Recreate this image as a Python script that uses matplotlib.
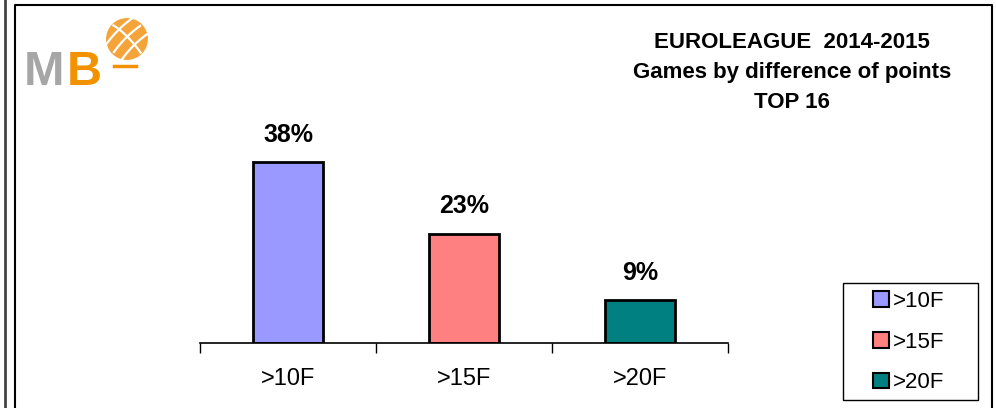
import matplotlib.pyplot as plt
import matplotlib.patches as mpatches
from matplotlib.lines import Line2D
import numpy as np

# Datos
categories = [">10F", ">15F", ">20F"]
percentages = [38, 23, 9]
colors = ["#9999ff", "#ff8080", "#008080"]
title_lines = ["EUROLEAGUE  2014-2015", "Games by difference of points", "TOP 16"]

plt.rcParams['font.family'] = ['Liberation Sans', 'DejaVu Sans']

W, H = 996, 408
fig = plt.figure(figsize=(W / 100, H / 100), dpi=100)

# Eje principal (posición en píxeles)
x0, x1 = 200, 728
base_y = 343
px_per_pct = 4.76
top_pct = 45
ax = fig.add_axes([x0 / W, (H - base_y) / H, (x1 - x0) / W, top_pct * px_per_pct / H])
ax.set_xlim(-0.5, len(categories) - 0.5)
ax.set_ylim(0, top_pct)

x = np.arange(len(categories))
bars = ax.bar(x, percentages, width=0.4, color=colors, edgecolor='black', linewidth=2)

for bar, p in zip(bars, percentages):
    ax.text(bar.get_x() + bar.get_width() / 2, p + 5.7, f"{p}%",
            ha='center', va='center', fontsize=18, fontweight='bold')

for s in ['top', 'right', 'left']:
    ax.spines[s].set_visible(False)
ax.spines['bottom'].set_linewidth(1.2)
ax.set_yticks([])
ax.set_xticks(np.arange(-0.5, len(categories)))
ax.set_xticklabels([])
ax.tick_params(axis='x', length=7, width=1, direction='out')
for xi, c in zip(x, categories):
    ax.text(xi, -7.6, c, ha='center', va='center', fontsize=17, clip_on=False)

# Leyenda (marco dibujado aparte)
fig.add_artist(mpatches.Rectangle((843 / W, 1 - 400 / H), 135 / W, 117 / H,
                                  transform=fig.transFigure, facecolor='white',
                                  edgecolor='black', linewidth=1))
handles = [mpatches.Patch(facecolor=c, edgecolor='black', linewidth=1.5) for c in colors]
leg = fig.legend(handles, categories, loc='upper left',
                 bbox_to_anchor=(873 / W, 1 - 291 / H), bbox_transform=fig.transFigure,
                 fontsize=16, frameon=False, borderaxespad=0, borderpad=0,
                 handlelength=0.7, handleheight=0.7, handletextpad=0.2,
                 labelspacing=0.88)

# Título
for i, line in enumerate(title_lines):
    fig.text(792 / W, 1 - (42 + 30.5 * i) / H, line, ha='center', va='center',
             fontsize=16, fontweight='bold')

# Marco
fig.add_artist(Line2D([15 / W, 15 / W, 992 / W, 992 / W], [0, 1 - 5 / H, 1 - 5 / H, 0],
                      transform=fig.transFigure, color='black', linewidth=1.5))
fig.add_artist(Line2D([4.5 / W, 4.5 / W], [0, 1], transform=fig.transFigure,
                      color='#444444', linewidth=2))

# Logo MB
fig.text(24 / W, 1 - 85 / H, "M", color='#a6a6a6', fontsize=35, fontweight='bold',
         ha='left', va='baseline')
fig.text(67 / W, 1 - 85 / H, "B", color='#f39200', fontsize=35, fontweight='bold',
         ha='left', va='baseline')
logo = fig.add_axes([105 / W, 1 - 61 / H, 44 / W, 44 / H])
logo.set_xlim(-1, 1)
logo.set_ylim(-1, 1)
logo.set_aspect('equal')
logo.axis('off')
logo.add_patch(mpatches.Circle((0, 0), 0.92, color='#f5a43a'))
t = np.linspace(-1, 1, 60)
for off in [-0.5, 0.0, 0.5]:
    logo.plot(t * 0.85 * 0.7 + off * 0.7 - 0.05 * (1 - t ** 2),
              t * 0.85 * 0.7 - off * 0.7 + 0.05 * (1 - t ** 2),
              color='white', lw=1.6)
logo.plot(-t * 0.62, t * 0.62 + 0.12 * (1 - t ** 2), color='white', lw=1.6)
fig.add_artist(Line2D([114 / W, 136 / W], [1 - 66 / H, 1 - 66 / H],
                      transform=fig.transFigure, color='#f39200', linewidth=2.5))

fig.savefig('out.png', dpi=100)
